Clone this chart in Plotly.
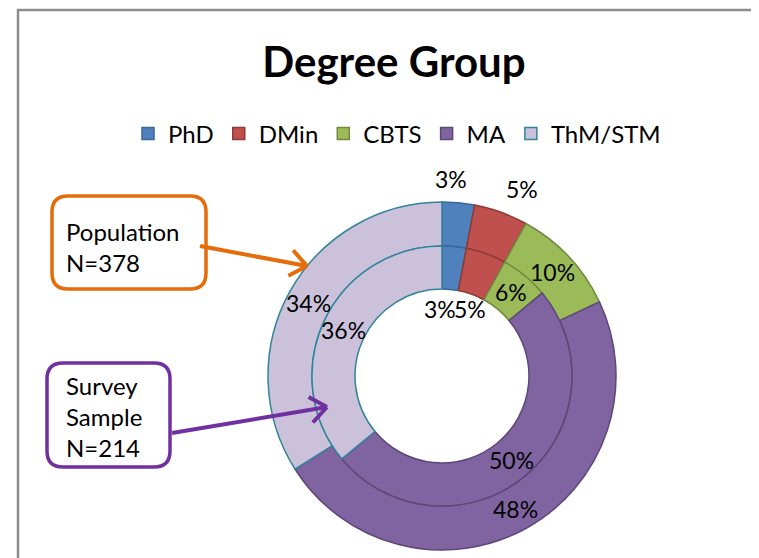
import math
import plotly.graph_objects as go

# ---------------- data ----------------
categories = ["PhD", "DMin", "CBTS", "MA", "ThM/STM"]
population_pct = [3, 5, 10, 48, 34]     # outer ring  (Population N=378)
sample_pct = [3, 5, 6, 50, 36]          # inner ring  (Survey Sample N=214)
title_text = "Degree Group"
population_note = ["Population", "N=378"]
sample_note = ["Survey", "Sample", "N=214"]

# ---------------- style ----------------
W, H = 759, 558
PAGE_OFFSET = 8   # default body margin of the html page
FONT = "Lato"
fill_colors = ["#4F81BD", "#C0504D", "#9BBB59", "#8064A2", "#CCC1DA"]
line_colors = ["#3A679C", "#8E3B38", "#71893F", "#5C4776", "#31849B"]
CX, CY = 442, 376
R_OUT, R_MID, R_HOLE = 174, 130, 87


def px(x):
    return (x - PAGE_OFFSET) / W


def py(y):
    return 1 - (y - PAGE_OFFSET) / H


def mids(vals):
    tot = sum(vals)
    out, c = [], 0
    for v in vals:
        out.append((c + v / 2) / tot * 2 * math.pi)
        c += v
    return out


def cum_angle(vals, n):
    return sum(vals[:n]) / sum(vals) * 2 * math.pi


def polar(r, a):
    return CX + r * math.sin(a), CY - r * math.cos(a)


fig = go.Figure()
fig.add_trace(go.Pie(
    labels=categories, values=population_pct, name="Population",
    sort=False, direction="clockwise", rotation=0,
    hole=R_MID / R_OUT,
    domain=dict(x=[px(CX - R_OUT), px(CX + R_OUT)], y=[py(CY + R_OUT), py(CY - R_OUT)]),
    marker=dict(colors=fill_colors, line=dict(color=line_colors, width=1.5)),
    textinfo="none", hoverinfo="label+percent",
))
fig.add_trace(go.Pie(
    labels=categories, values=sample_pct, name="Survey Sample",
    sort=False, direction="clockwise", rotation=0,
    hole=R_HOLE / R_MID, showlegend=False,
    domain=dict(x=[px(CX - R_MID), px(CX + R_MID)], y=[py(CY + R_MID), py(CY - R_MID)]),
    marker=dict(colors=fill_colors, line=dict(color=line_colors, width=1.5)),
    textinfo="none", hoverinfo="label+percent",
))

annotations = []
lab_font = dict(family=FONT, size=23, color="#000000")

# outer ring labels
for i, (v, a) in enumerate(zip(population_pct, mids(population_pct))):
    if v < 6:
        x, y = polar(R_OUT + 8, a)
        near_top = math.sin(a) < 0.2
        annotations.append(dict(x=px(x), y=py(y), xref="paper", yref="paper",
                                text=f"{v}%", showarrow=False, font=lab_font,
                                xanchor="center" if near_top else "left",
                                xshift=-8 if near_top else 0,
                                yanchor="bottom"))
    else:
        x, y = polar((R_OUT + R_MID) / 2, a)
        annotations.append(dict(x=px(x), y=py(y), xref="paper", yref="paper",
                                text=f"{v}%", showarrow=False, font=lab_font,
                                xanchor="center", yanchor="middle"))

# inner ring labels
bx, by = polar(R_HOLE - 19, cum_angle(sample_pct, 1))
for i, (v, a) in enumerate(zip(sample_pct, mids(sample_pct))):
    if v < 6:
        annotations.append(dict(x=px(bx), y=py(by), xref="paper", yref="paper",
                                text=f"{v}%", showarrow=False, font=lab_font,
                                xanchor="right" if i == 0 else "left",
                                xshift=3 if i == 0 else -3,
                                yanchor="middle"))
    else:
        x, y = polar((R_MID + R_HOLE) / 2, a)
        annotations.append(dict(x=px(x), y=py(y), xref="paper", yref="paper",
                                text=f"{v}%", showarrow=False, font=lab_font,
                                xanchor="center", yanchor="middle"))

# callout texts
note_font = dict(family=FONT, size=24, color="#000000")
annotations.append(dict(x=px(64), y=py(247), xref="paper", yref="paper",
                        text="<br>".join(population_note), showarrow=False,
                        align="left", xanchor="left", yanchor="middle", font=note_font))
annotations.append(dict(x=px(64), y=py(416), xref="paper", yref="paper",
                        text="<br>".join(sample_note), showarrow=False,
                        align="left", xanchor="left", yanchor="middle", font=note_font))


def rounded_rect(x0, y0, x1, y1, r):
    rx, ry = r / W, r / H
    X0, X1, Y0, Y1 = px(x0), px(x1), py(y0), py(y1)
    return (f"M {X0+rx},{Y0} L {X1-rx},{Y0} Q {X1},{Y0} {X1},{Y0-ry} "
            f"L {X1},{Y1+ry} Q {X1},{Y1} {X1-rx},{Y1} "
            f"L {X0+rx},{Y1} Q {X0},{Y1} {X0},{Y1+ry} "
            f"L {X0},{Y0-ry} Q {X0},{Y0} {X0+rx},{Y0} Z")


def arrow_path(x0, y0, x1, y1, arm=21, spread=38):
    ang = math.atan2(y1 - y0, x1 - x0)
    p = f"M {px(x0)},{py(y0)} L {px(x1)},{py(y1)} "
    for s in (-1, 1):
        b = ang + math.pi + s * math.radians(spread)
        ax, ay = x1 + arm * math.cos(b), y1 + arm * math.sin(b)
        p += f"M {px(x1)},{py(y1)} L {px(ax)},{py(ay)} "
    return p


ORANGE, PURPLE = "#E46C0A", "#7030A0"
shapes = [
    dict(type="rect", xref="paper", yref="paper", x0=px(18), y0=py(10), x1=px(800), y1=py(600),
         line=dict(color="#8C8C8C", width=2.5), fillcolor="rgba(0,0,0,0)", layer="below"),
    dict(type="path", xref="paper", yref="paper", path=rounded_rect(52, 196, 206, 289, 16),
         line=dict(color=ORANGE, width=3.5)),
    dict(type="path", xref="paper", yref="paper", path=rounded_rect(47, 363, 170, 467, 16),
         line=dict(color=PURPLE, width=3.5)),
    dict(type="path", xref="paper", yref="paper", path=arrow_path(200, 246, 307, 266),
         line=dict(color=ORANGE, width=4)),
    dict(type="path", xref="paper", yref="paper", path=arrow_path(172, 433, 327, 407),
         line=dict(color=PURPLE, width=4)),
]

fig.update_layout(
    width=W, height=H,
    margin=dict(l=0, r=0, t=0, b=0),
    paper_bgcolor="white", plot_bgcolor="white",
    font=dict(family=FONT, size=24, color="#000000"),
    title=dict(text=f"<b>{title_text}</b>", x=px(394), xanchor="center",
               y=py(62), yanchor="middle", yref="container",
               font=dict(family=FONT, size=42, color="#000000")),
    legend=dict(orientation="h", x=px(397), xanchor="center", y=py(134), yanchor="middle",
                font=dict(family=FONT, size=24, color="#000000"), itemwidth=30,
                bgcolor="rgba(0,0,0,0)"),
    annotations=annotations,
    shapes=shapes,
)

fig.write_html("out.html")
